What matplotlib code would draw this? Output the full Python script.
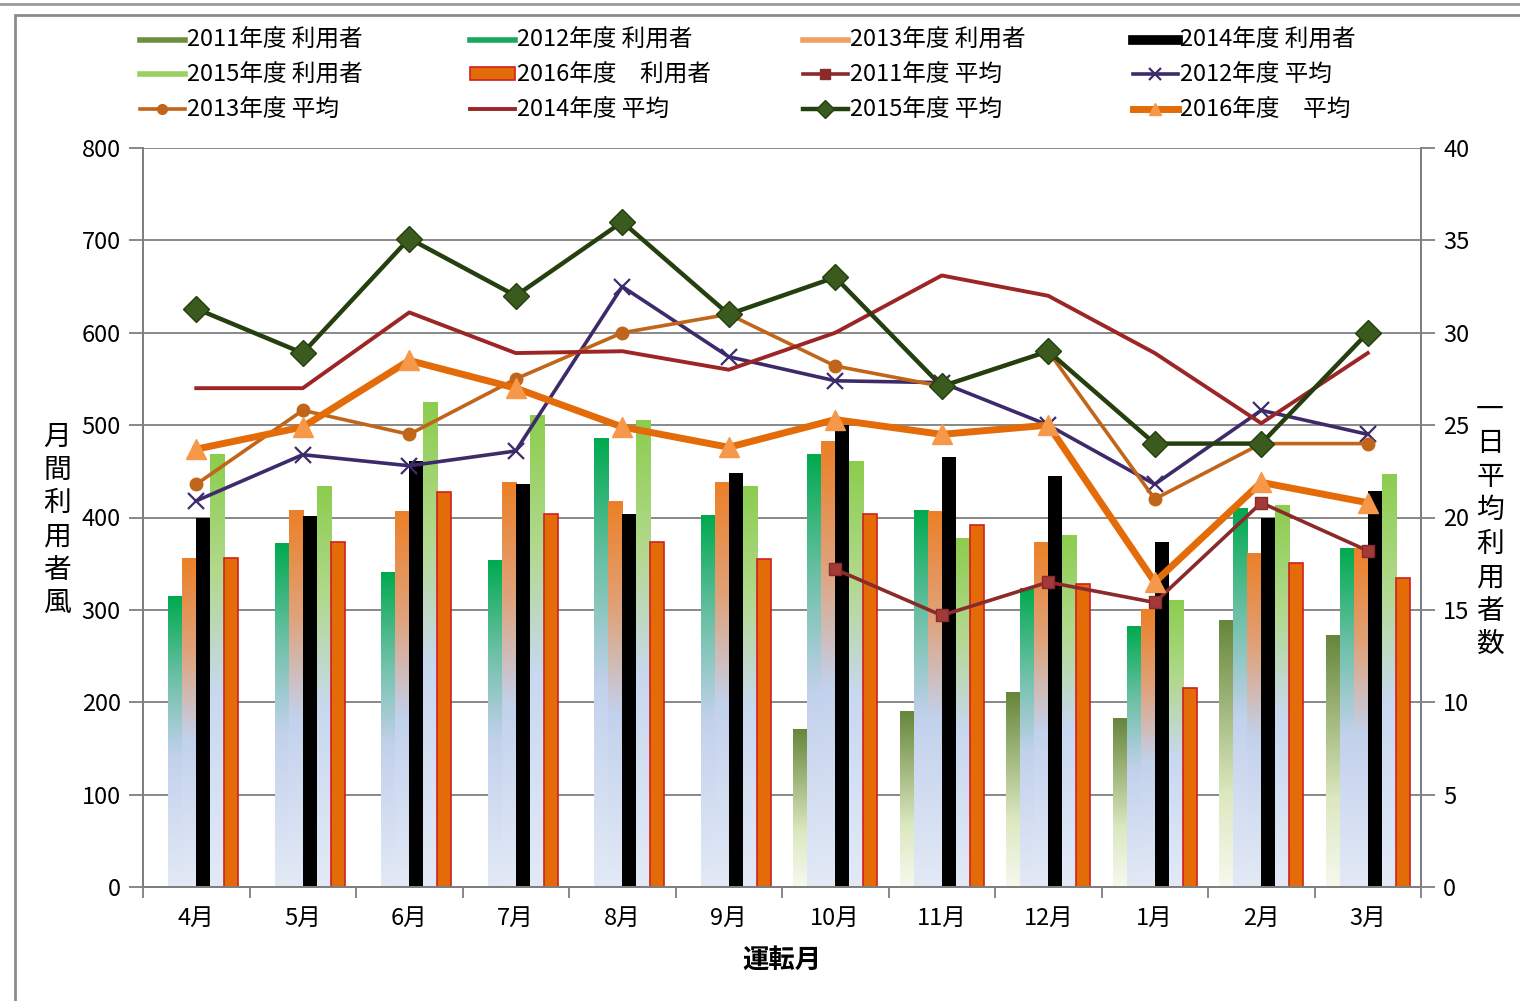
import numpy as np
import matplotlib
matplotlib.use("Agg")
from matplotlib import pyplot as plt
from matplotlib.colors import LinearSegmentedColormap
from matplotlib.lines import Line2D
from matplotlib.patches import Rectangle, Patch

plt.rcParams['font.family'] = ['Noto Sans CJK JP', 'DejaVu Sans']

nan = np.nan
months = ['4月', '5月', '6月', '7月', '8月', '9月', '10月', '11月', '12月', '1月', '2月', '3月']

# 月間利用者数 (左軸)
u2011 = [nan, nan, nan, nan, nan, nan, 171, 190, 211, 182, 289, 272]
u2012 = [315, 372, 340, 353, 485, 402, 468, 408, 323, 282, 410, 366]
u2013 = [356, 408, 406, 438, 417, 438, 482, 406, 373, 300, 361, 366]
u2014 = [400, 402, 461, 436, 404, 448, 500, 466, 445, 373, 399, 429]
u2015 = [468, 434, 525, 510, 505, 434, 461, 377, 381, 310, 413, 447]
u2016 = [356, 373, 428, 404, 373, 355, 404, 392, 328, 215, 351, 334]

# 一日平均利用者数 (右軸)
a2011 = [nan, nan, nan, nan, nan, nan, 17.2, 14.7, 16.5, 15.4, 20.8, 18.2]
a2012 = [20.9, 23.4, 22.8, 23.6, 32.5, 28.7, 27.4, 27.3, 25.0, 21.8, 25.8, 24.5]
a2013 = [21.8, 25.8, 24.5, 27.5, 30.0, 31.0, 28.2, 27.1, 29.0, 21.0, 24.0, 24.0]
a2014 = [27.0, 27.0, 31.1, 28.9, 29.0, 28.0, 30.0, 33.1, 32.0, 28.9, 25.1, 28.9]
a2015 = [31.3, 28.9, 35.1, 32.0, 36.0, 31.0, 33.0, 27.1, 29.0, 24.0, 24.0, 30.0]
a2016 = [23.7, 24.9, 28.5, 27.0, 24.9, 23.8, 25.3, 24.5, 25.0, 16.5, 21.9, 20.8]

bar_labels = ['2011年度 利用者', '2012年度 利用者', '2013年度 利用者',
              '2014年度 利用者', '2015年度 利用者', '2016年度\u3000利用者']
avg_labels = ['2011年度 平均', '2012年度 平均', '2013年度 平均',
              '2014年度 平均', '2015年度 平均', '2016年度\u3000平均']

pale = '#e3eaf6'
blue = '#c2d1ec'
cmaps = [
    LinearSegmentedColormap.from_list('c11', [(0, '#f6f9ee'), (0.35, '#dce8c0'), (1, '#66863a')]),
    LinearSegmentedColormap.from_list('c12', [(0, pale), (0.45, blue), (0.72, '#6cc0a6'), (1, '#00aa4f')]),
    LinearSegmentedColormap.from_list('c13', [(0, pale), (0.45, blue), (0.72, '#e0a27a'), (1, '#ec8028')]),
    None,
    LinearSegmentedColormap.from_list('c15', [(0, pale), (0.45, '#c8d8f0'), (0.72, '#b2d98e'), (1, '#8ccd4e')]),
    None,
]
leg_cols = ['#6e8e3e', '#1aa860', '#f0a060', 'black', '#9ad060', '#e36c09']

fig = plt.figure(figsize=(15.2, 10.01), dpi=100)
ax = fig.add_axes([143 / 1520, 1 - 887 / 1001, (1421 - 143) / 1520, (887 - 148) / 1001])
ax2 = ax.twinx()

x = np.arange(len(months))
w = 0.1315
series = [u2011, u2012, u2013, u2014, u2015, u2016]
for i, vals in enumerate(series):
    pos = x + (i - 2.5) * w
    if i == 3:
        ax.bar(pos, vals, w, color='black', zorder=2)
    elif i == 5:
        ax.bar(pos, vals, w, color='#e36c09', edgecolor='#d02020', linewidth=1.2, zorder=2)
    else:
        bars = ax.bar(pos, vals, w, color='none', zorder=2)
        for b in bars:
            h = b.get_height()
            if not np.isfinite(h) or h <= 0:
                continue
            x0 = b.get_x()
            ax.imshow(np.linspace(0, 1, 256).reshape(-1, 1), cmap=cmaps[i],
                      extent=(x0, x0 + w, 0, h), origin='lower', aspect='auto', zorder=2)

ax.set_xlim(-0.5, 11.5)
ax.set_ylim(0, 800)
ax.set_yticks(range(0, 801, 100))
ax.yaxis.grid(True, color='#7f7f7f', linewidth=1.3)
ax.set_axisbelow(True)
ax.set_xticks(x)
ax.set_xticklabels(months)
ax.set_xticks(np.arange(-0.5, 12, 1), minor=True)
ax.tick_params(axis='x', which='major', length=0, labelsize=17, pad=14)
ax.tick_params(axis='x', which='minor', length=8, color='#7f7f7f', width=1.3)
ax.tick_params(axis='y', length=10, color='#7f7f7f', width=1.3, labelsize=17, pad=6)

# 平均 (右軸)
ax2.plot(x, a2011, color='#8b2a2a', lw=2.6, marker='s', ms=9, mfc='#a33a3a', mec='#8b2a2a', zorder=3)
ax2.plot(x, a2012, color='#3d2a6b', lw=2.6, marker='x', ms=12, mew=1.6, zorder=3)
ax2.plot(x, a2013, color='#c0651a', lw=2.6, marker='o', ms=9, zorder=3)
ax2.plot(x, a2014, color='#9c2525', lw=2.8, zorder=3)
ax2.plot(x, a2015, color='#263f0f', lw=3.2, marker='D', ms=13, mfc='#3b5a1e', mec='#263f0f', zorder=3)
ax2.plot(x, a2016, color='#e36c09', lw=5, marker='^', ms=14, mfc='#f5984a', mec='#f5984a', zorder=3)
ax2.set_ylim(0, 40)
ax2.set_yticks(range(0, 41, 5))
ax2.tick_params(axis='y', length=10, color='#7f7f7f', width=1.3, labelsize=17, pad=6)

for a in (ax, ax2):
    a.spines['top'].set_visible(False)
    for s in ('left', 'right', 'bottom'):
        a.spines[s].set_color('#7f7f7f')
        a.spines[s].set_linewidth(1.4)

# 凡例 (4列 x 3行)
handles = [
    Line2D([], [], color=leg_cols[0], lw=4),
    Line2D([], [], color=leg_cols[1], lw=4),
    Line2D([], [], color=leg_cols[2], lw=4),
    Line2D([], [], color=leg_cols[3], lw=7),
    Line2D([], [], color=leg_cols[4], lw=4),
    Patch(facecolor=leg_cols[5], edgecolor='#d02020', linewidth=1.2),
    Line2D([], [], color='#8b2a2a', lw=2.6, marker='s', ms=7),
    Line2D([], [], color='#3d2a6b', lw=2.6, marker='x', ms=9, mew=1.6),
    Line2D([], [], color='#c0651a', lw=2.6, marker='o', ms=7),
    Line2D([], [], color='#9c2525', lw=2.8),
    Line2D([], [], color='#263f0f', lw=3.2, marker='D', ms=9, mfc='#3b5a1e'),
    Line2D([], [], color='#e36c09', lw=5, marker='^', ms=9, mfc='#f5984a', mec='#f5984a'),
]
labels = bar_labels + avg_labels
col_x = [140, 470, 803, 1133]
for c in range(4):
    idx = [c, c + 4, c + 8]
    fig.legend([handles[k] for k in idx], [labels[k] for k in idx],
               loc='upper left', bbox_to_anchor=(col_x[c] / 1520, 1 - 29 / 1001),
               frameon=False, fontsize=17, handlelength=1.9, handleheight=0.45,
               handletextpad=0.1, labelspacing=0.5, borderpad=0, borderaxespad=0)

fig.text(57 / 1520, 1 - 520 / 1001, "\n".join("月間利用者風"), ha='center', va='center',
         fontsize=20, linespacing=1.15)
fig.text(1490 / 1520, 1 - 527 / 1001, "\n".join("一日平均利用者数"), ha='center', va='center',
         fontsize=20, linespacing=1.15)
fig.text(782 / 1520, 1 - 960 / 1001, '運転月', ha='center', va='center', fontsize=19,
         fontweight='bold')

# 外枠
fig.patches.append(Rectangle((15 / 1520, -0.1), 1.2, 1 - 15 / 1001 + 0.1, transform=fig.transFigure,
                             fill=False, edgecolor='#8c8c8c', linewidth=2))
fig.add_artist(Line2D([0, 1], [1 - 4 / 1001] * 2, transform=fig.transFigure, color='#9a9a9a', lw=2))

fig.savefig('out.png', dpi=100)
